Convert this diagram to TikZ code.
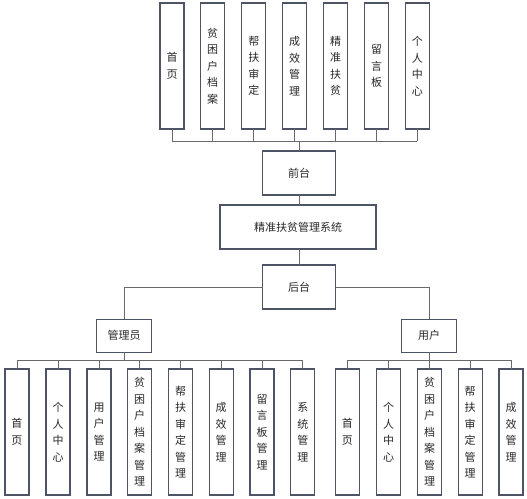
\documentclass[tikz,border=0pt]{standalone}
\usepackage{fontspec}
\newfontfamily\cjk{Noto Sans CJK SC}
\definecolor{boxc}{RGB}{78,84,102}
\definecolor{linec}{RGB}{105,105,110}
\definecolor{txtc}{RGB}{40,40,40}
\begin{document}
\begin{tikzpicture}[x=1pt,y=-1pt,
  box/.style={draw=boxc,line width=1.05pt,fill=white,inner sep=0pt,outer sep=0pt,
    font=\cjk\fontsize{11}{16.5}\selectfont,text=txtc,align=center},
  vbox/.style={box,minimum width=24pt,minimum height=126pt},
  hbox/.style={box,minimum width=73pt,minimum height=44pt},
  conn/.style={draw=linec,line width=0.9pt}]
\useasboundingbox (0,0) rectangle (527,498);
% top row
\node[vbox] (t1) at (172,66) {首\\页};
\node[vbox] (t2) at (212.7,66) {贫\\困\\户\\档\\案};
\node[vbox] (t3) at (253.8,66) {帮\\扶\\审\\定};
\node[vbox] (t4) at (294.7,66) {成\\效\\管\\理};
\node[vbox] (t5) at (335.5,66) {精\\准\\扶\\贫};
\node[vbox] (t6) at (376.5,66) {留\\言\\板};
\node[vbox] (t7) at (417.3,66) {个\\人\\中\\心};
% middle
\node[hbox] (qt) at (299,173) {前台};
\node[box,minimum width=156pt,minimum height=44pt] (sys) at (298,227) {精准扶贫管理系统};
\node[hbox] (ht) at (299,287) {后台};
\node[box,minimum width=55pt,minimum height=33pt] (gly) at (124.2,335.6) {管理员};
\node[box,minimum width=55pt,minimum height=33pt] (yh) at (429.2,335.6) {用户};
% admin row
\node[vbox] (a1) at (17,432) {首\\页};
\node[vbox] (a2) at (58,432) {个\\人\\中\\心};
\node[vbox] (a3) at (99,432) {用\\户\\管\\理};
\node[vbox] (a4) at (139.5,432) {贫\\困\\户\\档\\案\\管\\理};
\node[vbox] (a5) at (180.5,432) {帮\\扶\\审\\定\\管\\理};
\node[vbox] (a6) at (221.2,432) {成\\效\\管\\理};
\node[vbox] (a7) at (262,432) {留\\言\\板\\管\\理};
\node[vbox] (a8) at (302.8,432) {系\\统\\管\\理};
% user row
\node[vbox] (u1) at (347.3,432) {首\\页};
\node[vbox] (u2) at (388.7,432) {个\\人\\中\\心};
\node[vbox] (u3) at (429.5,432) {贫\\困\\户\\档\\案\\管\\理};
\node[vbox] (u4) at (470.2,432) {帮\\扶\\审\\定\\管\\理};
\node[vbox] (u5) at (511,432) {成\\效\\管\\理};
% buses
\coordinate (busT) at (299,141);
\coordinate (busA) at (124.2,360);
\coordinate (busU) at (429.2,360);
\foreach \n in {t1,t2,t3,t4,t5,t6,t7}{\draw[conn] (\n.south) -- (\n.south |- busT);}
\draw[conn] (t1.south |- busT) -- (t7.south |- busT);
\draw[conn] (busT) -- (qt.north);
\draw[conn] (qt.south) -- (qt.south |- sys.north);
\draw[conn] (ht.north |- sys.south) -- (ht.north);
\draw[conn] (ht.west) -| (gly.north);
\draw[conn] (ht.east) -| (yh.north);
\draw[conn] (gly.south) -- (busA);
\draw[conn] (yh.south) -- (busU);
\foreach \n in {a1,a2,a3,a4,a5,a6,a7,a8}{\draw[conn] (\n.north) -- (\n.north |- busA);}
\draw[conn] (a1.north |- busA) -- (a8.north |- busA);
\foreach \n in {u1,u2,u3,u4,u5}{\draw[conn] (\n.north) -- (\n.north |- busU);}
\draw[conn] (u1.north |- busU) -- (u5.north |- busU);
\end{tikzpicture}
\end{document}
